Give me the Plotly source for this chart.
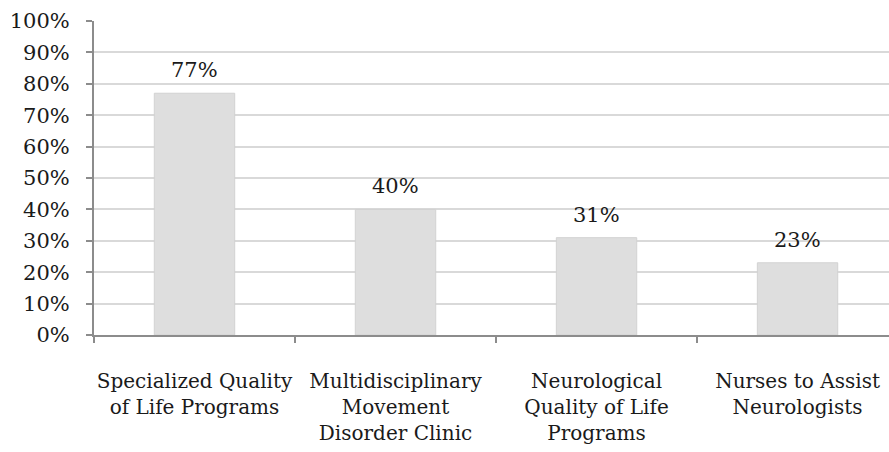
import plotly.graph_objects as go

categories = [
    "Specialized Quality<br>of Life Programs",
    "Multidisciplinary<br>Movement<br>Disorder Clinic",
    "Neurological<br>Quality of Life<br>Programs",
    "Nurses to Assist<br>Neurologists",
]
values = [77, 40, 31, 23]
labels = [f"{v}%" for v in values]
y_ticks = list(range(0, 101, 10))
y_tick_text = [f"{t}%" for t in y_ticks]

font_family = "DejaVu Serif"
text_color = "#1a1a1a"
axis_color = "#8c8c8c"

fig = go.Figure(
    go.Bar(
        x=categories,
        y=values,
        width=0.40,
        marker=dict(color="#dedede", line=dict(color="#d2d2d2", width=1)),
        hoverinfo="x+y",
    )
)

# value labels floating above each bar
for cat, val, lab in zip(categories, values, labels):
    fig.add_annotation(
        x=cat,
        y=val,
        text=lab,
        showarrow=False,
        yanchor="bottom",
        yshift=9,
        font=dict(family=font_family, size=21, color=text_color),
    )

fig.update_layout(
    width=889,
    height=452,
    margin=dict(l=94, r=0, t=21, b=117),
    paper_bgcolor="white",
    plot_bgcolor="white",
    showlegend=False,
    font=dict(family=font_family, size=21, color=text_color),
)

fig.update_xaxes(
    range=[-0.5, 3.455],
    automargin=False,
    tickangle=0,
    showline=True,
    linecolor=axis_color,
    linewidth=2,
    ticks="outside",
    tickson="boundaries",
    ticklen=6,
    tickwidth=2,
    tickcolor=axis_color,
    showgrid=False,
    ticklabelstandoff=27,
    tickfont=dict(family=font_family, size=20, color=text_color),
)

fig.update_yaxes(
    range=[0, 100],
    automargin=False,
    tickvals=y_ticks,
    ticktext=y_tick_text,
    showline=True,
    linecolor=axis_color,
    linewidth=2,
    ticks="outside",
    ticklen=6,
    tickwidth=2,
    tickcolor=axis_color,
    showgrid=True,
    gridcolor="#d9d9d9",
    gridwidth=2,
    zeroline=False,
    ticklabelstandoff=12,
    tickfont=dict(family=font_family, size=21, color=text_color),
)

fig.write_html("out.html")
